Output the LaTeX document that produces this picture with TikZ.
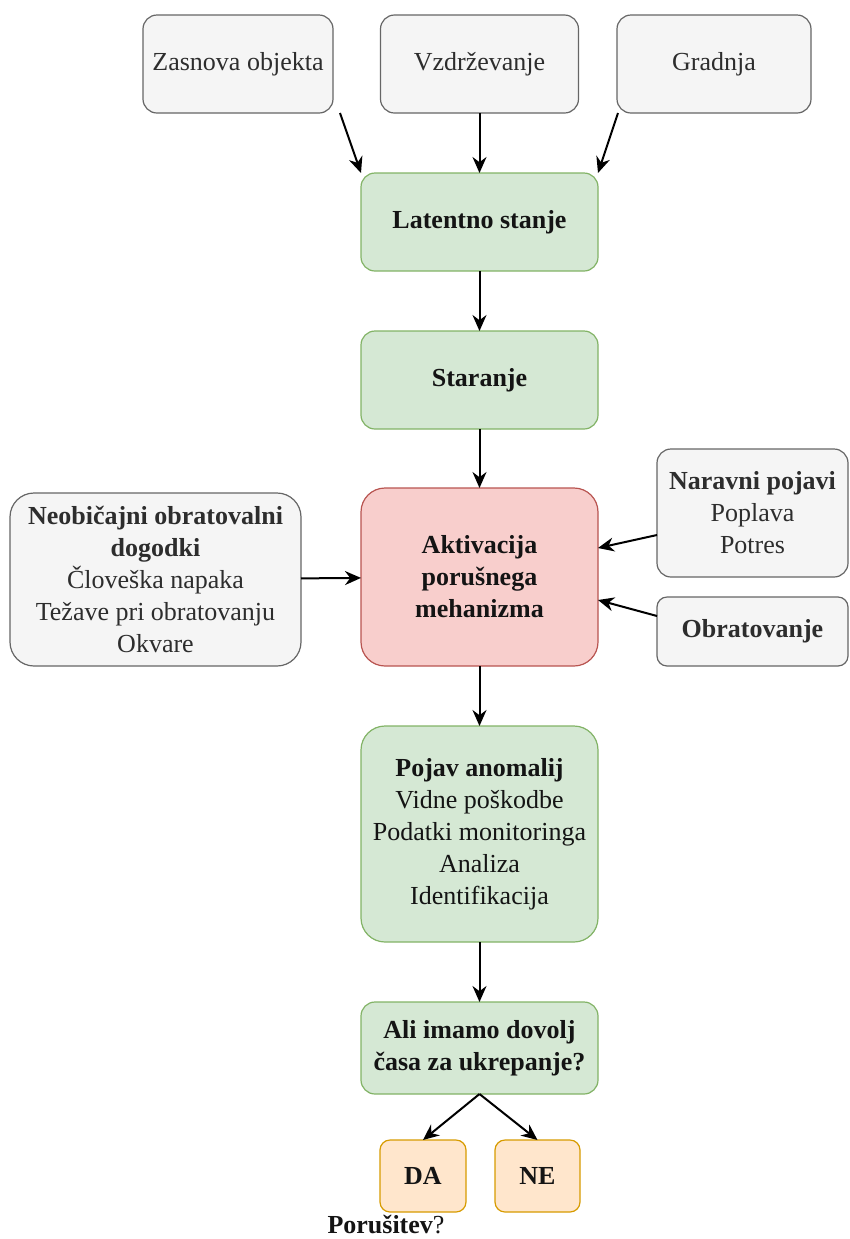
\documentclass[tikz,border=0pt]{standalone}
\usepackage{fontspec}
\setmainfont{Liberation Serif}
\usetikzlibrary{arrows.meta}
\definecolor{FlowInk}{RGB}{20,20,20}
\definecolor{SideInk}{RGB}{45,45,45}
\definecolor{SideFill}{HTML}{F5F5F5}
\definecolor{SideLine}{HTML}{666666}
\definecolor{StageFill}{HTML}{D5E8D4}
\definecolor{StageLine}{HTML}{82B366}
\definecolor{TriggerFill}{HTML}{F8CECC}
\definecolor{TriggerLine}{HTML}{B85450}
\definecolor{AnswerFill}{HTML}{FFE6CC}
\definecolor{AnswerLine}{HTML}{D79B00}

\begin{document}
\begin{tikzpicture}[
x=0.5pt,
y=-0.5pt,
every node/.style={font=\fontsize{13}{16}\selectfont,text=FlowInk,outer sep=0pt,inner sep=0pt,align=center},
sidebox/.style={draw=SideLine,fill=SideFill,text=SideInk,rounded corners=7pt,line width=0.6pt},
stagebox/.style={draw=StageLine,fill=StageFill,rounded corners=7pt,line width=0.6pt,minimum width=118.5pt},
triggerbox/.style={draw=TriggerLine,fill=TriggerFill,rounded corners=12pt,line width=0.6pt,minimum width=118.5pt},
answerbox/.style={draw=AnswerLine,fill=AnswerFill,rounded corners=5pt,line width=0.6pt,minimum height=36pt,font=\fontsize{13}{16}\selectfont\bfseries},
flow/.style={-{Stealth[length=8pt,width=7pt]},line width=1pt,draw=black}
]

\path[use as bounding box] (0,0) rectangle (850,1239);

% causes on top
\node[sidebox,minimum width=95pt,minimum height=49pt] (zasnova) at (238,64) {Zasnova objekta};
\node[sidebox,minimum width=99pt,minimum height=49pt] (vzdrz) at (479.5,64) {Vzdrževanje};
\node[sidebox,minimum width=97pt,minimum height=49pt] (gradnja) at (714,64) {Gradnja};

% main chain
\node[stagebox,minimum height=49pt] (latentno) at (479.5,222) {\textbf{Latentno stanje}};
\node[stagebox,minimum height=49pt] (staranje) at (479.5,380) {\textbf{Staranje}};
\node[triggerbox,minimum height=89pt] (aktiv) at (479.5,577) {\textbf{Aktivacija}\\\textbf{porušnega}\\\textbf{mehanizma}};
\node[stagebox,rounded corners=12pt,minimum height=108pt] (anomalije) at (479.5,834) {\textbf{Pojav anomalij}\\Vidne poškodbe\\Podatki monitoringa\\Analiza\\Identifikacija};
\node[stagebox,minimum height=46pt] (cas) at (479.5,1048) {\textbf{Ali imamo dovolj}\\\textbf{časa za ukrepanje?}};

% triggers at the side
\node[sidebox,rounded corners=12pt,minimum width=145.5pt,minimum height=86.5pt] (neobicajni) at (155.5,579.5) {\textbf{Neobičajni obratovalni}\\\textbf{dogodki}\\Človeška napaka\\Težave pri obratovanju\\Okvare};
\node[sidebox,minimum width=95.5pt,minimum height=64pt] (naravni) at (752.5,513) {\textbf{Naravni pojavi}\\Poplava\\Potres};
\node[sidebox,rounded corners=5pt,minimum width=95.5pt,minimum height=34.5pt] (obrat) at (752.5,631.5) {\textbf{Obratovanje}};

% answers
\node[answerbox,minimum width=43pt] (da) at (423,1176) {DA};
\node[answerbox,minimum width=42.5pt] (ne) at (537.5,1176) {NE};
\node (porusitev) at (386,1225) {\textbf{Porušitev}?};

\draw[flow] ([xshift=3.5pt]zasnova.south east) -- (latentno.north west);
\draw[flow] (vzdrz) -- (latentno);
\draw[flow] ([xshift=0.5pt]gradnja.south west) -- (latentno.north east);
\draw[flow] (latentno) -- (staranje);
\draw[flow] (staranje) -- (aktiv);
\draw[flow] (neobicajni) -- (aktiv);
\draw[flow] ([yshift=-11pt]naravni.west) -- ([yshift=14.5pt]aktiv.east);
\draw[flow] ([yshift=7.75pt]obrat.west) -- ([yshift=-11.5pt]aktiv.east);
\draw[flow] (aktiv) -- (anomalije);
\draw[flow] (anomalije) -- (cas);
\draw[flow] (cas.south) -- (da.north);
\draw[flow] (cas.south) -- (ne.north);

\end{tikzpicture}
\end{document}
